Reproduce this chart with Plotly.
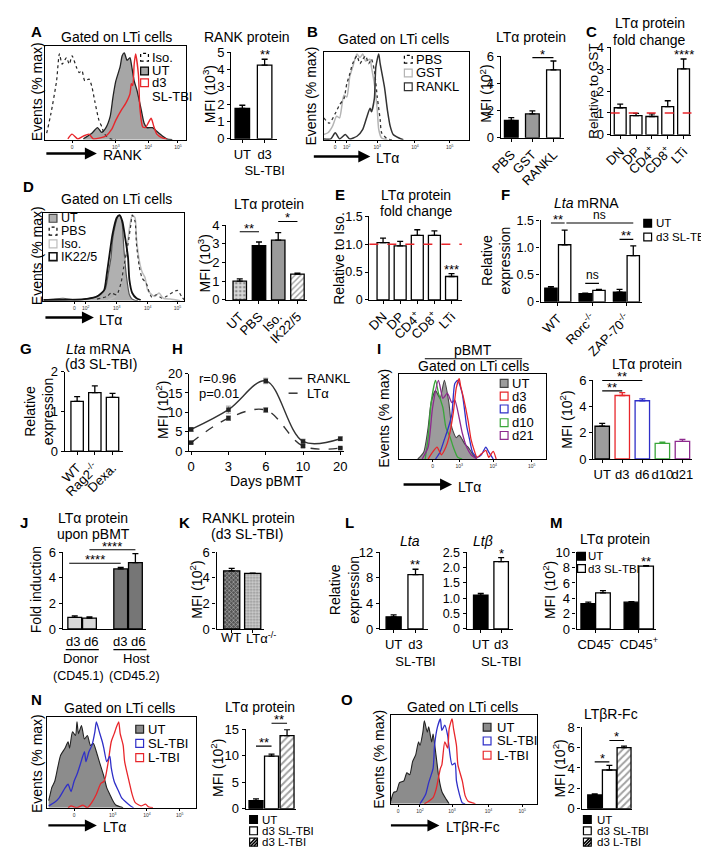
import plotly.graph_objects as go

# ======================= DATA =======================
SUP = lambda s: "<sup>" + s + "</sup>"
LOGT4 = ["0", "10" + SUP("3"), "10" + SUP("4"), "10" + SUP("5")]
LOGT5 = ["0", "10" + SUP("2"), "10" + SUP("3"), "10" + SUP("4"), "10" + SUP("5")]

# --- A histogram (RANK) ---
A_iso_x = [1, 4, 8, 10, 12, 15, 17, 19, 22, 24, 26, 28, 31, 33, 35, 38, 40, 42, 46, 50]
A_iso_y = [7, 28, 63, 92, 81, 88, 81, 90, 78, 72, 74, 63, 65, 57, 42, 21, 14, 6, 1, 0]
A_ut_x = [27, 33, 37, 40, 43, 46, 48, 50, 53, 54.5, 56, 58, 60, 61, 63, 65, 68, 70, 72, 76, 79, 83, 86, 90]
A_ut_y = [1, 7, 13, 8, 13, 25, 46, 63, 78, 90, 93, 85, 88, 81, 63, 53, 32, 18, 13, 13, 9, 4, 1, 0]
A_d3_x = [16, 19, 23, 27, 31, 34, 39, 43, 47, 50, 54, 57, 60, 61, 62, 63, 64, 66, 67, 69, 71, 73, 75, 77, 79, 83, 86]
A_d3_y = [1, 6, 1, 4, 6, 1, 2, 4, 11, 21, 32, 39, 49, 60, 58, 81, 92, 70, 35, 14, 13, 18, 23, 14, 6, 2, 1]
A_ticks = [19, 50, 73, 94]
# --- A bars ---
A_cats = ["UT", "d3 SL-TBI"]
A_labels = ["UT", "d3<br>SL-TBI"]
A_vals = [1.76, 4.26]
A_errs = [0.18, 0.34]

# --- B histogram ---
B_pbs_x = [0, 4, 8, 11, 14, 16, 18, 20, 23, 25, 27, 29, 31, 33, 35, 37, 39, 40, 44, 47]
B_pbs_y = [25, 19, 30, 40, 47, 64, 75, 87, 96, 87, 92, 96, 87, 92, 79, 49, 23, 8, 1, 0]
B_gst_x = [0, 3, 6, 9, 11, 14, 16, 18, 20, 23, 25, 27, 29, 32, 33, 35, 37, 38, 40, 44]
B_gst_y = [6, 8, 15, 27, 25, 51, 49, 72, 83, 98, 94, 98, 90, 92, 83, 64, 34, 12, 2, 0]
B_rankl_x = [0, 5, 8, 11, 15, 18, 23, 27, 30, 32, 33, 35, 36, 38, 39, 42, 44, 46, 48, 52, 55]
B_rankl_y = [1, 1, 8, 1, 6, 1, 4, 12, 27, 36, 32, 47, 83, 98, 87, 60, 34, 15, 6, 2, 0]
B_ticks = [8, 16, 37, 63, 87]
# --- B bars ---
B_cats = ["PBS", "GST", "RANKL"]
B_vals = [1.28, 1.76, 5.0]
B_errs = [0.2, 0.22, 0.65]

# --- C bars ---
C_cats = ["DN", "DP", "CD4+", "CD8+", "LTi"]
C_labels = ["DN", "DP", "CD4" + SUP("+"), "CD8" + SUP("+"), "LTi"]
C_vals = [1.24, 0.88, 0.84, 1.29, 3.02]
C_errs = [0.17, 0.1, 0.12, 0.27, 0.45]

# --- D histogram ---
D_ut_x = [0, 14, 22, 29, 36, 40, 44, 46, 48, 49, 51, 53, 54.5, 56, 57, 59, 61, 63, 67]
D_ut_y = [1, 3, 1, 2, 4, 7, 14, 31, 50, 69, 87, 97, 97, 87, 61, 27, 7, 2, 0]
D_ik_x = [0, 29, 38, 43, 45, 47, 49, 52, 54, 56, 58, 60, 61, 63, 66, 69]
D_ik_y = [1, 2, 5, 12, 31, 54, 76, 95, 98, 91, 72, 50, 24, 9, 3, 1]
D_pbs_x = [38, 45, 48, 52, 55, 57, 60, 62, 63, 65, 66, 68, 70, 73, 75, 77, 80, 84, 87, 92, 95, 98, 100]
D_pbs_y = [2, 5, 9, 7, 20, 39, 65, 87, 98, 91, 65, 39, 26, 20, 10, 4, 7, 3, 5, 10, 12, 5, 1]
D_iso_x = [46, 51, 54, 56, 59, 61, 63, 65, 66, 68, 70, 72, 74, 77, 79, 82, 85, 90, 97]
D_iso_y = [1, 5, 12, 31, 57, 83, 98, 95, 72, 46, 33, 27, 12, 7, 5, 9, 3, 2, 0]
D_ticks = [22, 30, 52, 74, 95]
# --- D bars ---
D_cats = ["UT", "PBS", "Iso.", "IK22/5"]
D_vals = [1.0, 2.9, 3.2, 1.38]
D_errs = [0.12, 0.2, 0.4, 0.05]

# --- E bars ---
E_cats = ["DN", "DP", "CD4+", "CD8+", "LTi"]
E_labels = C_labels
E_vals = [1.03, 0.97, 1.16, 1.16, 0.42]
E_errs = [0.08, 0.08, 0.1, 0.08, 0.05]

# --- F bars ---
F_groups = ["WT", "Rorc-/-", "ZAP-70-/-"]
F_labels = ["WT", "Rorc" + SUP("-/-"), "ZAP-70" + SUP("-/-")]
F_ut = [0.25, 0.15, 0.18]
F_ut_err = [0.03, 0.01, 0.05]
F_d3 = [1.05, 0.21, 0.85]
F_d3_err = [0.27, 0.02, 0.18]

# --- G bars ---
G_cats = ["WT", "Rag2-/-", "Dexa."]
G_labels = ["WT", "Rag2" + SUP("-/-"), "Dexa."]
G_vals = [1.25, 1.47, 1.35]
G_errs = [0.12, 0.17, 0.1]

# --- H time course ---
H_days = ["0", "3", "6", "10", "20"]
H_rankl = [5.6, 10.7, 18.1, 2.5, 3.2]
H_rankl_err = [0.5, 0.9, 0.7, 0.6, 0.5]
H_lta = [2.2, 8.5, 10.6, 1.3, 0.8]
H_lta_err = [0.3, 0.6, 0.6, 0.3, 0.2]

# --- I histogram ---
I_ut_x = [13, 17, 20, 22, 25, 28, 31, 34, 36, 39, 41, 45, 47, 50, 53]
I_ut_y = [0, 8, 37, 66, 80, 71, 92, 66, 37, 25, 28, 17, 14, 6, 0]
I_d10_x = [18, 20, 22, 25, 27, 30, 32, 35, 37, 40, 43]
I_d10_y = [0, 25, 66, 92, 77, 60, 37, 25, 14, 2, 0]
I_d21_x = [16, 20, 23, 27, 30, 33, 36, 38, 41, 43, 46, 49, 53]
I_d21_y = [0, 14, 60, 92, 71, 77, 66, 69, 48, 31, 14, 5, 0]
I_d3_x = [20, 23, 26, 29, 32, 34, 37, 39, 41, 42, 44, 47, 49, 51, 53, 56, 59, 61, 64, 66]
I_d3_y = [0, 8, 14, 5, 14, 25, 54, 83, 94, 85, 71, 45, 23, 11, 2, 6, 10, 2, 9, 0]
I_d6_x = [25, 28, 31, 33, 36, 38, 40, 43, 46, 48, 50, 53, 56, 59, 61, 64]
I_d6_y = [0, 8, 23, 33, 52, 88, 92, 77, 39, 23, 8, 2, 5, 14, 8, 0]
I_ticks = [23, 41, 64, 90]
# --- I bars ---
I_cats = ["UT", "d3", "d6", "d10", "d21"]
I_vals = [2.5, 4.85, 4.45, 1.2, 1.35]
I_errs = [0.22, 0.22, 0.14, 0.08, 0.15]

# --- J bars ---
J_groups = ["Donor", "Host"]
J_sub = ["(CD45.1)", "(CD45.2)"]
J_series = "d3 d6"
J_d3 = [0.9, 4.7]
J_d3_err = [0.12, 0.12]
J_d6 = [0.85, 5.2]
J_d6_err = [0.1, 0.7]

# --- K bars ---
K_cats = ["WT", "LTa-/-"]
K_labels = ["WT", "LTα" + SUP("-/-")]
K_vals = [4.55, 4.35]
K_errs = [0.2, 0.03]

# --- L bars ---
L_cats = ["UT", "d3 SL-TBI"]
L_labels = ["UT", "d3<br>SL-TBI"]
L_lta = [1.9, 8.5]
L_lta_err = [0.3, 0.85]
L_ltb = [1.1, 2.2]
L_ltb_err = [0.06, 0.13]

# --- M bars ---
M_groups = ["CD45-", "CD45+"]
M_labels = ["CD45" + SUP("-"), "CD45" + SUP("+")]
M_ut = [3.3, 3.5]
M_ut_err = [0.2, 0.05]
M_d3 = [4.7, 8.2]
M_d3_err = [0.3, 0.05]

# --- N histogram ---
N_ut_x = [1, 2, 3, 5, 7, 9, 12, 14, 15, 17, 19, 20, 21, 23, 25, 27, 29, 31, 33, 35, 38, 40, 42, 44, 46, 49, 51]
N_ut_y = [8, 15, 22, 29, 44, 58, 66, 73, 66, 84, 80, 95, 82, 91, 76, 80, 69, 71, 62, 51, 35, 22, 15, 8, 3, 1, 0]
N_sl_x = [1, 5, 8, 12, 14, 16, 18, 20, 22, 25, 26, 28, 30, 32, 33, 35, 37, 38, 40, 42, 43, 45, 48, 50, 53, 56, 58]
N_sl_y = [2, 6, 11, 22, 26, 18, 29, 37, 47, 62, 51, 62, 69, 84, 95, 84, 73, 66, 51, 57, 44, 29, 18, 11, 6, 2, 0]
N_l_x = [14, 16, 20, 24, 27, 30, 33, 36, 38, 39, 41, 43, 45, 46, 48, 49, 51, 52, 55, 57, 59, 63, 66, 68, 71]
N_l_y = [0, 2, 0, 3, 0, 6, 15, 27, 29, 33, 51, 73, 82, 87, 95, 82, 69, 51, 29, 15, 6, 2, 4, 1, 0]
N_ticks = [18, 44, 67, 89]
# --- N bars ---
N_cats = ["UT", "d3 SL-TBI", "d3 L-TBI"]
N_vals = [1.5, 9.9, 13.8]
N_errs = [0.35, 0.4, 1.1]

# --- O histogram ---
O_ut_x = [0, 2, 4, 6, 9, 11, 13, 15, 17, 19, 20, 22, 23, 25, 26, 28, 29, 31, 33, 35, 38, 40]
O_ut_y = [3, 13, 14, 24, 26, 35, 33, 48, 55, 70, 66, 81, 94, 81, 87, 70, 79, 55, 29, 14, 5, 0]
O_sl_x = [20, 22, 24, 26, 29, 30, 32, 34, 35, 37, 39, 40, 42, 44, 45, 47, 49, 51]
O_sl_y = [0, 5, 11, 24, 40, 66, 87, 96, 83, 89, 77, 63, 44, 46, 26, 11, 1, 0]
O_l_x = [23, 26, 29, 31, 34, 35, 37, 39, 40, 42, 43, 45, 46, 49, 51, 53, 56, 58]
O_l_y = [0, 3, 7, 16, 40, 44, 70, 63, 85, 96, 85, 66, 44, 26, 9, 3, 1, 0]
O_ticks = [5, 20, 42, 67, 90]
# --- O bars ---
O_cats = ["UT", "d3 SL-TBI", "d3 L-TBI"]
O_vals = [1.35, 3.8, 6.0]
O_errs = [0.1, 0.45, 0.15]

# ======================= BUILD =======================
W, H = 709, 849
FONT = "Liberation Sans, Arial, Helvetica, sans-serif"
RED, BLUE, GREEN, PURPLE = "#e8262b", "#2f2fc8", "#3aa63a", "#8e2a8e"
LEG = 11.5
fig = go.Figure()
axes_layout = {}
ann = []
shp = []
n_ax = [0]


def PX(px):
    return px / W


def PY(py):
    return 1 - py / H


def new_axes(x0, x1, y0, y1):
    n_ax[0] += 1
    s = '' if n_ax[0] == 1 else str(n_ax[0])
    xa = dict(domain=[PX(x0), PX(x1)], anchor='y' + s, showgrid=False, zeroline=False)
    ya = dict(domain=[PY(y1), PY(y0)], anchor='x' + s, showgrid=False, zeroline=False)
    axes_layout['xaxis' + s] = xa
    axes_layout['yaxis' + s] = ya
    return 'x' + s, 'y' + s, xa, ya


def bar_panel(x0, x1, ytop, ybot, ymax, yticks, xrange, cats, labels=None,
              tickangle=0, yticktext=None, showx=True, xticks='outside', yfont=13):
    xr, yr, xa, ya = new_axes(x0, x1, ytop, ybot)
    xa.update(type='category', categoryorder='array', categoryarray=cats, range=xrange,
              showline=True, linecolor='black', linewidth=1.3, ticks=xticks, ticklen=3,
              tickwidth=1.1, tickcolor='black', tickangle=tickangle,
              tickfont=dict(size=13, color='black'), showticklabels=showx,
              tickmode='array', tickvals=cats, ticktext=labels or cats)
    ya.update(range=[0, ymax], tickmode='array', tickvals=yticks,
              ticktext=yticktext or [str(v) for v in yticks],
              showline=True, linecolor='black', linewidth=1.3, ticks='outside', ticklen=3,
              tickwidth=1.1, tickcolor='black', tickfont=dict(size=yfont, color='black'))
    return xr, yr


def add_bars(xr, yr, cats, vals, errs, colors, width, offset=None, lines='black',
             pattern=None, err_color='black'):
    if offset is None:
        offset = -width / 2
    fig.add_trace(go.Bar(
        x=cats, y=vals, xaxis=xr, yaxis=yr, width=width, offset=offset,
        marker=dict(color=colors, line=dict(color=lines, width=1.3), pattern=pattern or {}),
        error_y=dict(type='data', symmetric=False, array=errs, arrayminus=[0] * len(errs),
                     color=err_color, thickness=1.3, width=3),
        showlegend=False, hoverinfo='skip'))


def sig(xr, yr, ymax, xa_, xb_, h, text, line=True):
    yd = h / ymax
    if line:
        shp.append(dict(type='line', xref=xr, yref=yr + ' domain', x0=xa_, x1=xb_, y0=yd, y1=yd,
                        line=dict(color='black', width=1.1)))
    star = '*' in text
    ann.append(dict(xref=xr, yref=yr + ' domain', x=(xa_ + xb_) / 2, y=yd, text=text,
                    showarrow=False, yanchor='bottom', yshift=-6 if star else -1,
                    font=dict(size=13 if star else 12, color='black')))


def hist_panel(x0, x1, y0, y1, tickvals, ticktext):
    xr, yr, xa, ya = new_axes(x0, x1, y0, y1)
    xa.update(range=[0, 100], showline=True, mirror=True, linecolor='black', linewidth=1.2,
              ticks='outside', ticklen=2, tickwidth=0.8, tickcolor='black',
              tickmode='array', tickvals=tickvals, ticktext=ticktext, tickangle=0,
              tickfont=dict(size=5, color='#333'))
    ya.update(range=[0, 100], showline=True, mirror=True, linecolor='black', linewidth=1.2,
              showticklabels=False, ticks='')
    return xr, yr


def curve(xr, yr, xs, ys, color, width=1.3, dash='solid', fill=None):
    fig.add_trace(go.Scatter(
        x=xs, y=ys, xaxis=xr, yaxis=yr, mode='lines',
        line=dict(color=color, width=width, dash=dash, shape='spline', smoothing=0.6),
        fill='tozeroy' if fill else None, fillcolor=fill, showlegend=False, hoverinfo='skip'))


def T(px, py, text, size=14, xanchor='center', angle=0, bold=False, yanchor='middle'):
    if bold:
        text = '<b>' + text + '</b>'
    ann.append(dict(xref='paper', yref='paper', x=PX(px), y=PY(py), text=text, showarrow=False,
                    xanchor=xanchor, yanchor=yanchor, textangle=angle,
                    font=dict(size=size, color='black')))


def arrow(x0, x1, y, label, lx):
    ann.append(dict(xref='paper', yref='paper', x=PX(x1), y=PY(y), ax=-(x1 - x0), ay=0,
                    text='', showarrow=True, arrowhead=2, arrowsize=1, arrowwidth=2.4,
                    arrowcolor='black'))
    T(lx, y + 2, label, size=14, xanchor='left')


def sq(cx, cy, fill='white', line='black', dash='solid', s=8, lw=1.2):
    shp.append(dict(type='rect', xref='paper', yref='paper', x0=PX(cx - s / 2), x1=PX(cx + s / 2),
                    y0=PY(cy + s / 2), y1=PY(cy - s / 2), fillcolor=fill,
                    line=dict(color=line, width=lw, dash=dash)))


def hatch_sq(cx, cy, s=8):
    sq(cx, cy, s=s)
    for k in (-0.25, 0.15, 0.55):
        a0 = cx - s / 2 + k * s
        x0, y0 = max(a0, cx - s / 2), cy + s / 2 - max(0, cx - s / 2 - a0)
        x1 = min(a0 + s, cx + s / 2)
        y1 = cy + s / 2 - (x1 - a0)
        shp.append(dict(type='line', xref='paper', yref='paper', x0=PX(x0), y0=PY(y0),
                        x1=PX(x1), y1=PY(y1), line=dict(color='black', width=1.6)))


# ---------- A ----------
xr, yr = hist_panel(27, 172, 32, 127, A_ticks, LOGT4)
curve(xr, yr, A_ut_x, A_ut_y, '#222', 1.3, fill='#a6a6a6')
curve(xr, yr, A_iso_x, A_iso_y, '#222', 1.2, dash='dot')
curve(xr, yr, A_d3_x, A_d3_y, RED, 1.4)
sq(129, 43, dash='dot'); sq(129, 57, fill='#a6a6a6'); sq(129, 69, line=RED)
T(135, 43, "Iso.", 13, 'left'); T(135, 57, "UT", 13, 'left'); T(135, 69, "d3", 13, 'left')
T(135, 83, "SL-TBI", 13, 'left')
arrow(28, 80, 141, "RANK", 84)

xr, yr = bar_panel(218, 265, 38, 126, 5, [0, 1, 2, 3, 4, 5], [-0.5, 1.55], A_cats, A_labels)
add_bars(xr, yr, A_cats, A_vals, A_errs, ['black', 'white'], 0.65)
sig(xr, yr, 5, 1, 1, A_vals[1] + A_errs[1] + 0.05, "**", line=False)

# ---------- B ----------
xr, yr = hist_panel(313, 462, 38, 127, B_ticks, LOGT5)
curve(xr, yr, B_gst_x, B_gst_y, '#b4b4b4', 1.5)
curve(xr, yr, B_pbs_x, B_pbs_y, '#333', 1.3, dash='dot')
curve(xr, yr, B_rankl_x, B_rankl_y, '#333', 1.5)
sq(400, 45, dash='dot'); sq(400, 59, line='#b4b4b4'); sq(400, 73, line='#333')
T(406, 45, "PBS", 13, 'left'); T(406, 59, "GST", 13, 'left'); T(406, 73, "RANKL", 13, 'left')
arrow(303, 361, 144, "LTα", 365)

xr, yr = bar_panel(495, 560, 42, 125, 6, [0, 2, 4, 6], [-0.5, 2.5], B_cats, tickangle=-45)
add_bars(xr, yr, B_cats, B_vals, B_errs, ['black', '#9a9a9a', 'white'], 0.65)
sig(xr, yr, 6, 1, 2, 5.9, "*")

# ---------- C ----------
xr, yr = bar_panel(608, 691, 33, 122, 4, [0, 1, 2, 3, 4], [-0.6, 4.5], C_cats, C_labels, tickangle=-45)
add_bars(xr, yr, C_cats, C_vals, C_errs, 'white', 0.75)
shp.append(dict(type='line', xref=xr + ' domain', yref=yr, x0=0, x1=1, y0=1, y1=1,
                line=dict(color=RED, width=1.6, dash='dash')))
sig(xr, yr, 4, 4, 4, C_vals[4] + C_errs[4] + 0.05, "****", line=False)

# ---------- D ----------
xr, yr = hist_panel(25, 170, 202, 291, D_ticks, LOGT5)
curve(xr, yr, D_ut_x, D_ut_y, '#555', 1.2, fill='#b0b0b0')
curve(xr, yr, D_iso_x, D_iso_y, '#bdbdbd', 1.5)
curve(xr, yr, D_pbs_x, D_pbs_y, '#333', 1.2, dash='dot')
curve(xr, yr, D_ik_x, D_ik_y, '#111', 1.8)
sq(35, 207, fill='#b0b0b0', line='#444'); sq(35, 220, dash='dot'); sq(35, 233, line='#bdbdbd')
sq(35, 246, line='#111', lw=1.6)
T(41, 207, "UT", 12.5, 'left'); T(41, 220, "PBS", 12.5, 'left'); T(41, 233, "Iso.", 12.5, 'left')
T(41, 246, "IK22/5", 12.5, 'left')
arrow(27, 77, 308, "LTα", 80)

xr, yr = bar_panel(213, 296, 214, 290, 4, [0, 1, 2, 3, 4], [-0.7, 3.5], D_cats, tickangle=-45)
add_bars(xr, yr, D_cats, D_vals, D_errs, ['#d9d9d9', 'black', '#9a9a9a', 'white'], 0.7,
         pattern=dict(shape=['.', '', '', '/'], fgcolor='#555', bgcolor='white', size=4, solidity=0.35,
                      fillmode='overlay'))
sig(xr, yr, 4, 0, 1, 3.65, "**")
sig(xr, yr, 4, 2, 3, 4.2, "*")

# ---------- E ----------
xr, yr = bar_panel(360, 455, 205, 290, 1.5, [0, 0.5, 1, 1.5], [-0.8, 4.6], E_cats, E_labels,
                   tickangle=-45, yticktext=['0', '0.5', '1.0', '1.5'], yfont=12.5)
add_bars(xr, yr, E_cats, E_vals, E_errs, 'white', 0.7)
shp.append(dict(type='line', xref=xr + ' domain', yref=yr, x0=0, x1=1, y0=1, y1=1,
                line=dict(color=RED, width=1.6, dash='dash')))
sig(xr, yr, 1.5, 4, 4, E_vals[4] + E_errs[4] + 0.02, "***", line=False)

# ---------- F ----------
FW, F_OFF_UT, F_OFF_D3 = 0.36, -0.38, 0.02
xr, yr = bar_panel(536, 640, 209, 292, 1.5, [0, 0.5, 1, 1.5], [-0.5, 2.45], F_groups, F_labels,
                   tickangle=-45, yticktext=['0', '0.5', '1.0', '1.5'], yfont=12.5)
add_bars(xr, yr, F_groups, F_ut, F_ut_err, 'black', FW, F_OFF_UT)
add_bars(xr, yr, F_groups, F_d3, F_d3_err, 'white', FW, F_OFF_D3)
cu = F_OFF_UT + FW / 2
cd = F_OFF_D3 + FW / 2
sig(xr, yr, 1.5, 0 + cu, 0 + cd, 1.45, "**")
sig(xr, yr, 1.5, 0 + cd + 0.05, 2 + cd, 1.45, "ns")
sig(xr, yr, 1.5, 1 + cu, 1 + cd, 0.34, "ns")
sig(xr, yr, 1.5, 2 + cu, 2 + cd, 1.15, "**")
sq(646, 212, fill='black'); sq(646, 226)
T(652, 212, "UT", LEG, 'left'); T(652, 226, "d3 SL-TBI", LEG, 'left')

# ---------- G ----------
xr, yr = bar_panel(47, 107, 363, 444, 2, [0, 1, 2], [-0.7, 2.6], G_cats, G_labels, tickangle=-45)
add_bars(xr, yr, G_cats, G_vals, G_errs, 'white', 0.7)

# ---------- H ----------
xr, yr, xa, ya = new_axes(175, 334, 365, 444)
xa.update(type='category', range=[-0.05, 4.1], showline=True, linecolor='black', linewidth=1.3,
          ticks='outside', ticklen=3, tickcolor='black', tickangle=0,
          tickfont=dict(size=13, color='black'))
ya.update(range=[0, 20], tickvals=[0, 5, 10, 15, 20], showline=True, linecolor='black',
          linewidth=1.3, ticks='outside', ticklen=3, tickcolor='black',
          tickfont=dict(size=13, color='black'))
for vals, errs, dash in ((H_rankl, H_rankl_err, 'solid'), (H_lta, H_lta_err, 'dash')):
    fig.add_trace(go.Scatter(
        x=H_days, y=vals, xaxis=xr, yaxis=yr, mode='lines+markers', cliponaxis=False,
        line=dict(color='#333', width=1.4, dash=dash, shape='spline', smoothing=1.0),
        marker=dict(symbol='square', size=4.5, color='#222'),
        error_y=dict(type='data', array=errs, color='#999', thickness=1, width=2.5),
        showlegend=False, hoverinfo='skip'))
shp.append(dict(type='line', xref='paper', yref='paper', x0=PX(277), x1=PX(291), y0=PY(370),
                y1=PY(370), line=dict(color='#333', width=1.5)))
shp.append(dict(type='line', xref='paper', yref='paper', x0=PX(277), x1=PX(291), y0=PY(385),
                y1=PY(385), line=dict(color='#333', width=1.5, dash='dash')))
T(294, 370, "RANKL", 13, 'left'); T(294, 385, "LTα", 13, 'left')
T(183, 370, "r=0.96", 13, 'left'); T(183, 385, "p=0.01", 13, 'left')
T(255, 474, "Days pBMT", 14)

# ---------- I ----------
xr, yr = hist_panel(390, 542, 365, 452, I_ticks, LOGT4)
curve(xr, yr, I_ut_x, I_ut_y, '#444', 1.1, fill='#9c9c9c')
curve(xr, yr, I_d10_x, I_d10_y, GREEN, 1.3)
curve(xr, yr, I_d21_x, I_d21_y, PURPLE, 1.3)
curve(xr, yr, I_d6_x, I_d6_y, BLUE, 1.3)
curve(xr, yr, I_d3_x, I_d3_y, RED, 1.3)
for cy, lc, fc, lab in ((375, '#444', '#9c9c9c', "UT"), (388, RED, 'white', "d3"),
                        (401, BLUE, 'white', "d6"), (415, GREEN, 'white', "d10"),
                        (428, PURPLE, 'white', "d21")):
    sq(498.5, cy, fill=fc, line=lc)
    T(505, cy, lab, 13, 'left')
arrow(395, 445, 478, "LTα", 449)

xr, yr = bar_panel(590, 692, 372, 452, 6, [0, 2, 4, 6], [-0.45, 4.5], I_cats)
I_fill = ['#9c9c9c', 'white', 'white', 'white', 'white']
I_line = ['black', RED, BLUE, GREEN, PURPLE]
for k in range(len(I_cats)):
    add_bars(xr, yr, [I_cats[k]], [I_vals[k]], [I_errs[k]], I_fill[k], 0.72,
             lines=I_line[k], err_color=I_line[k])
sig(xr, yr, 6, 0, 1, 5.2, "**")
sig(xr, yr, 6, 0, 2, 6.0, "**")

# ---------- J ----------
JW, J_OFF3, J_OFF6 = 0.3, -0.31, 0.01
xr, yr = bar_panel(45, 130, 547, 625, 6, [0, 2, 4, 6], [-0.42, 1.38], J_groups, showx=False, xticks='')
add_bars(xr, yr, J_groups, J_d3, J_d3_err, ['#d9d9d9', '#767676'], JW, J_OFF3)
add_bars(xr, yr, J_groups, J_d6, J_d6_err, ['#d9d9d9', '#767676'], JW, J_OFF6)
c3, c6 = J_OFF3 + JW / 2, J_OFF6 + JW / 2
sig(xr, yr, 6, 0 + c3 - 0.12, 1 + c3, 5.15, "****")
sig(xr, yr, 6, 0 + c6, 1 + c6, 6.2, "****")
for (sx, gx, cx), g, sub in zip(((65, 64, 61), (114, 121, 119)), J_groups, J_sub):
    T(sx, 638, J_series, 13)
    T(gx, 655, g, 13)
    T(cx, 673, sub, 12.5)
for x0, x1 in ((48, 82), (97, 131)):
    shp.append(dict(type='line', xref='paper', yref='paper', x0=PX(x0), x1=PX(x1), y0=PY(646),
                    y1=PY(646), line=dict(color='black', width=1.1)))

# ---------- K ----------
xr, yr = bar_panel(203, 252, 547, 625, 6, [0, 2, 4, 6], [-0.72, 1.55], K_cats, showx=False)
add_bars(xr, yr, K_cats, K_vals, K_errs, ['#555555', '#d0d0d0'], 0.77,
         pattern=dict(shape=['x', '.'], fgcolor='#111', size=3, solidity=0.4, fillmode='overlay'))
T(218, 634, K_labels[0], 13)
T(231, 634, K_labels[1], 13, 'left')

# ---------- L ----------
xr, yr = bar_panel(371, 420, 547, 625, 12, [0, 4, 8, 12], [-0.62, 1.56], L_cats, L_labels)
add_bars(xr, yr, L_cats, L_lta, L_lta_err, ['black', 'white'], 0.69)
sig(xr, yr, 12, 1, 1, L_lta[1] + L_lta_err[1] + 0.2, "**", line=False)
xr, yr = bar_panel(460, 508, 547, 625, 2.5, [0, 0.5, 1, 1.5, 2, 2.5], [-0.69, 1.6], L_cats, L_labels,
                   yticktext=['0', '0.5', '1.0', '1.5', '2.0', '2.5'], yfont=12.5)
add_bars(xr, yr, L_cats, L_ltb, L_ltb_err, ['black', 'white'], 0.71)
sig(xr, yr, 2.5, 1, 1, L_ltb[1] + L_ltb_err[1] + 0.03, "*", line=False)

# ---------- M ----------
MW, M_OFF_UT, M_OFF_D3 = 0.34, -0.34, 0.0
xr, yr = bar_panel(573, 655, 547, 625, 10, [0, 2, 4, 6, 8, 10], [-0.44, 1.41], M_groups, M_labels)
add_bars(xr, yr, M_groups, M_ut, M_ut_err, 'black', MW, M_OFF_UT)
add_bars(xr, yr, M_groups, M_d3, M_d3_err, 'white', MW, M_OFF_D3)
sig(xr, yr, 10, 1 + MW / 2, 1 + MW / 2, M_d3[1] + 0.15, "**", line=False)
sq(578, 551, fill='black'); sq(578, 563.5)
T(583, 551, "UT", LEG, 'left'); T(583, 563.5, "d3 SL-TBI", LEG, 'left')

# ---------- N ----------
xr, yr = hist_panel(29, 182, 715, 807, N_ticks, LOGT4)
curve(xr, yr, N_ut_x, N_ut_y, '#222', 1.1, fill='#8c8c8c')
curve(xr, yr, N_l_x, N_l_y, RED, 1.3)
curve(xr, yr, N_sl_x, N_sl_y, BLUE, 1.3)
sq(124, 727, fill='#8c8c8c', line='#222'); sq(124, 741.5, line=BLUE); sq(124, 756, line=RED)
T(131, 727, "UT", 13, 'left'); T(131, 741.5, "SL-TBI", 13, 'left'); T(131, 756, "L-TBI", 13, 'left')
arrow(30, 80, 825, "LTα", 84)

xr, yr = bar_panel(233, 285, 727, 808, 15, [0, 5, 10, 15], [-0.66, 2.6], N_cats, showx=False, xticks='')
add_bars(xr, yr, N_cats, N_vals, N_errs, ['black', 'white', 'white'], 0.9,
         pattern=dict(shape=['', '', '/'], fgcolor='black', bgcolor='white', size=5, solidity=0.4))
sig(xr, yr, 15, 0, 1, 11.8, "**")
sig(xr, yr, 15, 1, 2, 16.1, "**")
sq(241, 819, fill='black'); sq(241, 830.5); hatch_sq(241, 842)
T(248, 819, "UT", LEG, 'left'); T(248, 830.5, "d3 SL-TBI", LEG, 'left'); T(248, 842, "d3 L-TBI", LEG, 'left')

# ---------- O ----------
xr, yr = hist_panel(382, 532, 713, 803, O_ticks, LOGT5)
curve(xr, yr, O_ut_x, O_ut_y, '#222', 1.1, fill='#8c8c8c')
curve(xr, yr, O_sl_x, O_sl_y, BLUE, 1.3)
curve(xr, yr, O_l_x, O_l_y, RED, 1.3)
sq(481, 725, fill='#8c8c8c', line='#222'); sq(481, 739, line=BLUE); sq(481, 753.5, line=RED)
T(489, 725, "UT", 13, 'left'); T(489, 739, "SL-TBI", 13, 'left'); T(489, 753.5, "L-TBI", 13, 'left')
arrow(382, 432, 825, "LTβR-Fc", 437)

xr, yr = bar_panel(578, 630, 725, 808, 8, [0, 2, 4, 6, 8], [-0.9, 2.55], O_cats, showx=False, xticks='')
add_bars(xr, yr, O_cats, O_vals, O_errs, ['black', 'white', 'white'], 0.95,
         pattern=dict(shape=['', '', '/'], fgcolor='black', bgcolor='white', size=5, solidity=0.4))
sig(xr, yr, 8, 0, 1, 4.6, "*")
sig(xr, yr, 8, 1, 2, 6.7, "*")
sq(584, 819, fill='black'); sq(584, 830.5); hatch_sq(584, 842)
T(592, 819, "UT", LEG, 'left'); T(592, 830.5, "d3 SL-TBI", LEG, 'left'); T(592, 842, "d3 L-TBI", LEG, 'left')

# ---------- panel letters ----------
for lab, x, y in (("A", 18, 17), ("B", 302, 17), ("C", 588, 17), ("D", 10, 175), ("E", 330, 183),
                  ("F", 500, 183), ("G", 7, 340), ("H", 163, 340), ("I", 370, 340), ("J", 5, 517),
                  ("K", 170, 517), ("L", 340, 517), ("M", 552, 517), ("N", 18, 697), ("O", 337, 697)):
    T(x, y, lab, 15, bold=True)

# ---------- titles ----------
for x, y, t in ((100, 22, "Gated on LTi cells"), (234, 22, "RANK protein"),
                (385, 24, "Gated on LTi cells"), (526, 22, "LTα protein"),
                (648, 8, "LTα protein"), (648, 25, "fold change"),
                (100, 187, "Gated on LTi cells"), (257, 192, "LTα protein"),
                (408, 183, "LTα protein"), (408, 200, "fold change"),
                (583, 191, "<i>Lta</i> mRNA"),
                (82, 340, "<i>Lta</i> mRNA"), (84, 355, "(d3 SL-TBI)"),
                (467, 341, "pBMT"), (467, 357, "Gated on LTi cells"), (645, 355, "LTα protein"),
                (76, 512, "LTα protein"), (77, 528, "upon pBMT"),
                (236, 512, "RANKL protein"), (234, 528, "(d3 SL-TBI)"),
                (402, 535, "<i>Lta</i>"), (477, 535, "<i>Ltβ</i>"), (612, 533, "LTα protein"),
                (103, 705, "Gated on LTi cells"), (248, 704, "LTα protein"),
                (456, 704, "Gated on LTi cells"), (608, 712, "LTβR-Fc")):
    T(x, y, t, 14)
shp.append(dict(type='line', xref='paper', yref='paper', x0=PX(417), x1=PX(517), y0=PY(350), y1=PY(350),
                line=dict(color='black', width=1.1)))

# ---------- y-axis titles ----------
MFI3 = "MFI (10" + SUP("3") + ")"
MFI2 = "MFI (10" + SUP("2") + ")"
for x, y, t, sz in ((18, 78, "Events (% max)", 14), (195, 81, MFI3, 14), (300, 82, "Events (% max)", 14),
                    (479, 80, MFI2, 14), (590, 78, "Relative to GST", 13.5),
                    (18, 245, "Events (% max)", 14), (190, 253, MFI3, 14), (328, 248, "Relative to Iso.", 14),
                    (490, 250, "Relative<br>expression", 14),
                    (20, 403, "Relative<br>expression", 14), (147, 402, MFI2, 14),
                    (375, 410, "Events (% max)", 14), (562, 412, MFI2, 14),
                    (17, 585, "Fold induction", 14), (182, 585, MFI2, 14),
                    (334, 585, "Relative<br>expression", 14), (544, 585, MFI2, 14),
                    (18, 762, "Events (% max)", 14), (204, 767, MFI2, 14),
                    (370, 758, "Events (% max)", 14), (555, 767, MFI2, 14)):
    T(x, y, t, sz, angle=-90)

fig.update_layout(
    width=W, height=H, autosize=False, margin=dict(l=0, r=0, t=0, b=0),
    paper_bgcolor='white', plot_bgcolor='white', showlegend=False, barmode='overlay',
    font=dict(family=FONT, size=13, color='black'),
    annotations=ann, shapes=shp, **axes_layout)

fig.write_html("out.html")
